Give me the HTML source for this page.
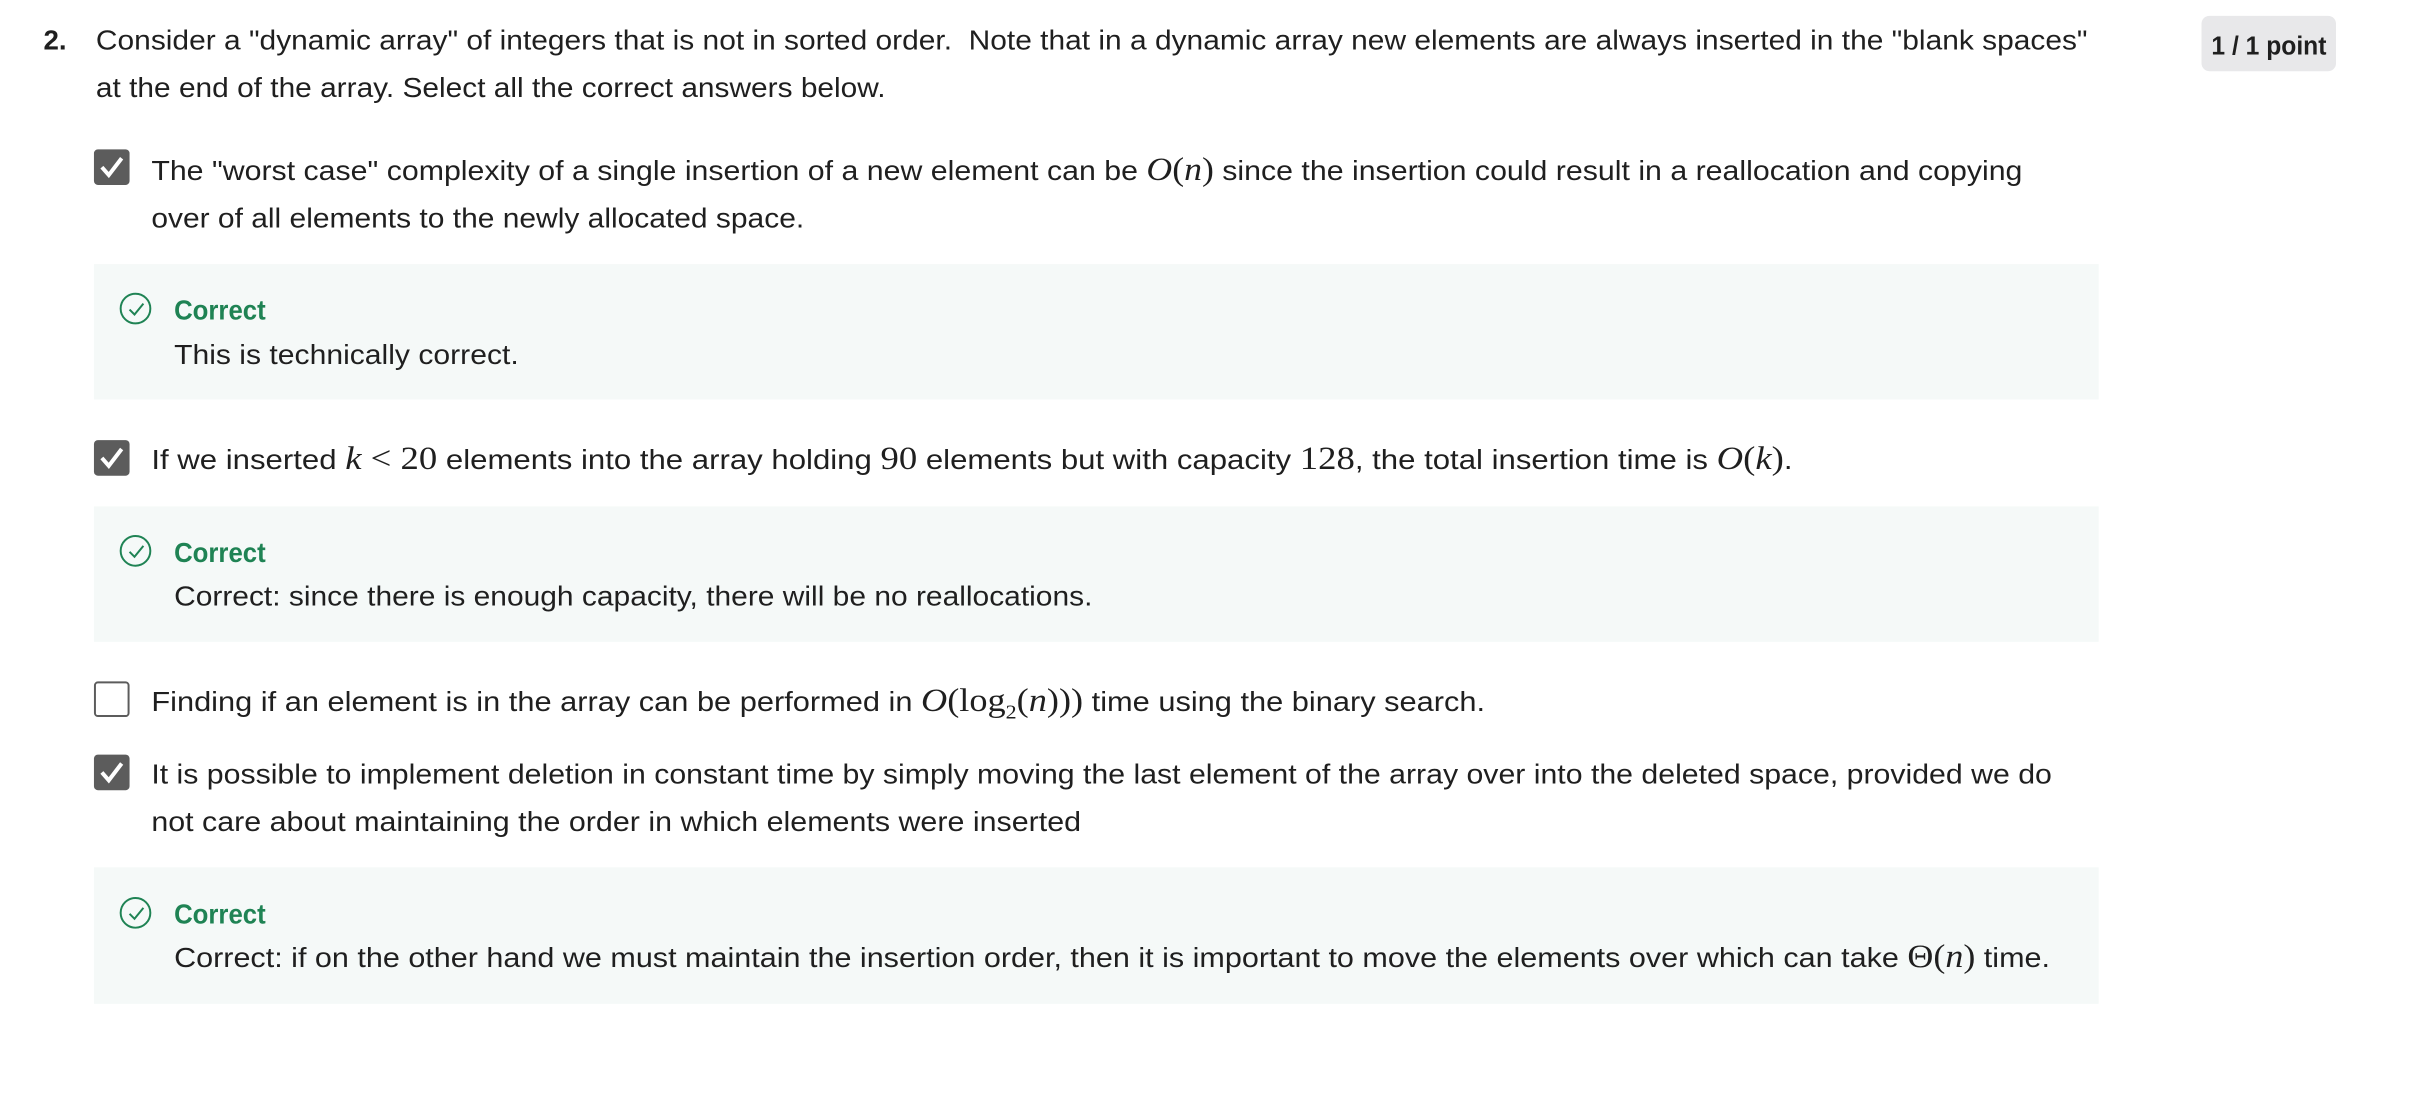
<!DOCTYPE html>
<html><head><meta charset="utf-8"><style>
html,body{margin:0;padding:0;background:#fff;width:2420px;height:1100px;overflow:hidden}
body{position:relative;font-family:"Liberation Sans",sans-serif;color:#1f1f1f}
#wrap{position:absolute;left:0;top:0;width:2420px;height:1100px;transform:scale(0.989);transform-origin:0 0}
.t{position:absolute;white-space:nowrap;font-size:28px;line-height:48px;height:48px;transform-origin:0 50%;margin-top:2px}
.m{font-family:"Liberation Serif",serif;font-size:33px}
.i{font-style:italic}
.box{position:absolute;left:95px;width:2027px;background:#f5f9f8}
.cb{position:absolute;left:95px;width:36px;height:36px;border-radius:4px;background:#5c5c5c}
.cb svg{position:absolute;left:0;top:0}
.cbe{position:absolute;left:95px;width:32px;height:32px;border:2px solid #5c5c5c;border-radius:4px;background:#fff}
.ic{position:absolute;left:121px;width:32px;height:32px;border:2px solid #1f8354;border-radius:50%;box-sizing:border-box}
.ic svg{position:absolute;left:6px;top:7px}
.g{color:#1f8354;font-weight:bold}
</style></head><body><div id="wrap">
<div class="t" style="left:44px;top:15px;font-weight:bold">2.</div>
<div class="t s" style="left:97px;top:15px;--w:2014">Consider a "dynamic array" of integers that is not in sorted order.&nbsp; Note that in a dynamic array new elements are always inserted in the "blank spaces"</div>
<div class="t s" style="left:97px;top:63px;--w:798">at the end of the array. Select all the correct answers below.</div>
<div style="position:absolute;left:2226px;top:16px;width:136px;height:56px;background:#e8e8ea;border-radius:8px"></div>
<div class="t s" style="left:2236px;top:20px;font-weight:bold;font-size:26px;--w:116">1 / 1 point</div>

<div class="cb" style="top:151px"><svg width="36" height="36"><path d="M8 18 L15 26 L28 9" stroke="#fff" stroke-width="4" fill="none"/></svg></div>
<div class="t s" style="left:153px;top:146px;--w:1892">The "worst case" complexity of a single insertion of a new element can be <span class="m"><span class="i">O</span>(<span class="i">n</span>)</span> since the insertion could result in a reallocation and copying</div>
<div class="t s" style="left:153px;top:195px;--w:660">over of all elements to the newly allocated space.</div>
<div class="box" style="top:267px;height:137px"></div>
<div class="ic" style="top:296px"><svg width="18" height="16"><path d="M2 8 L7 13 L16 2" stroke="#1f8354" stroke-width="2" fill="none"/></svg></div>
<div class="t g s" style="left:176px;top:288px;--w:93">Correct</div>
<div class="t s" style="left:176px;top:333px;--w:349">This is technically correct.</div>

<div class="cb" style="top:445px"><svg width="36" height="36"><path d="M8 18 L15 26 L28 9" stroke="#fff" stroke-width="4" fill="none"/></svg></div>
<div class="t s" style="left:153px;top:438px;--w:1660">If we inserted <span class="m"><span class="i">k</span> &lt; 20</span> elements into the array holding <span class="m">90</span> elements but with capacity <span class="m">128</span>, the total insertion time is <span class="m"><span class="i">O</span>(<span class="i">k</span>)</span>.</div>
<div class="box" style="top:512px;height:137px"></div>
<div class="ic" style="top:541px"><svg width="18" height="16"><path d="M2 8 L7 13 L16 2" stroke="#1f8354" stroke-width="2" fill="none"/></svg></div>
<div class="t g s" style="left:176px;top:533px;--w:93">Correct</div>
<div class="t s" style="left:176px;top:577px;--w:929">Correct: since there is enough capacity, there will be no reallocations.</div>

<div class="cbe" style="top:689px"></div>
<div class="t s" style="left:153px;top:683px;--w:1349">Finding if an element is in the array can be performed in <span class="m"><span class="i">O</span>(log<sub style="font-size:20px">2</sub>(<span class="i">n</span>)))</span> time using the binary search.</div>

<div class="cb" style="top:763px"><svg width="36" height="36"><path d="M8 18 L15 26 L28 9" stroke="#fff" stroke-width="4" fill="none"/></svg></div>
<div class="t s" style="left:153px;top:757px;--w:1922">It is possible to implement deletion in constant time by simply moving the last element of the array over into the deleted space, provided we do</div>
<div class="t s" style="left:153px;top:805px;--w:940">not care about maintaining the order in which elements were inserted</div>
<div class="box" style="top:877px;height:138px"></div>
<div class="ic" style="top:907px"><svg width="18" height="16"><path d="M2 8 L7 13 L16 2" stroke="#1f8354" stroke-width="2" fill="none"/></svg></div>
<div class="t g s" style="left:176px;top:899px;--w:93">Correct</div>
<div class="t s" style="left:176px;top:942px;--w:1897">Correct: if on the other hand we must maintain the insertion order, then it is important to move the elements over which can take <span class="m">Θ(<span class="i">n</span>)</span> time.</div>
</div>
<script>
document.querySelectorAll('.s').forEach(function(e){
 var w=parseFloat(getComputedStyle(e).getPropertyValue('--w'));
 var a=e.offsetWidth;
 if(w&&a)e.style.transform='scaleX('+(w/a)+')';
});
</script>
</body></html>
